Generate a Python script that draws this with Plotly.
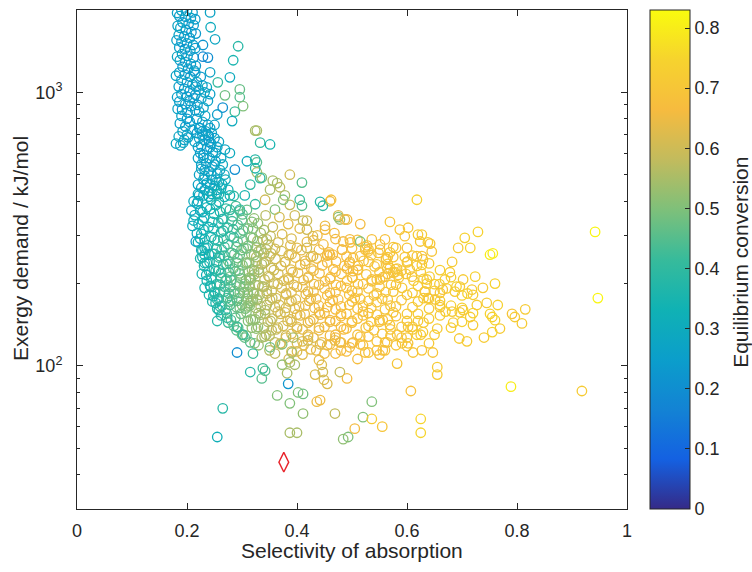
import plotly.graph_objects as go

# ---------------- data ----------------
# vertical streak near selectivity 0.19-0.21
streak_sel = [0.190,0.200,0.210,0.186,0.197,0.207,0.192,0.203,0.212,0.188,0.198,0.208,0.185,0.195,0.205,
              0.190,0.200,0.211,0.186,0.196,0.206,0.191,0.201,0.212,0.187,0.197,0.207,0.192,0.202,0.213,
              0.186,0.196,0.206,0.190,0.200,0.210,0.185,0.195,0.205,0.190,0.200,0.212,0.186,0.197,0.207,
              0.191,0.201,0.190,0.200,0.187,0.197,0.192,0.185,0.195,0.180,0.188,
              0.182,0.215,0.183,0.216,0.181,0.215,0.182,0.216,0.180,0.216,0.182,0.215,0.183,0.205,0.210,
              0.200,0.205]
streak_exe = [1990,1985,1960,1900,1890,1870,1800,1780,1760,1720,1690,1660,1620,1600,1580,
              1530,1510,1490,1460,1440,1420,1380,1360,1340,1310,1290,1270,1240,1220,1200,
              1180,1160,1140,1110,1090,1070,1050,1030,1010,985,965,950,925,905,890,
              865,845,820,800,770,750,720,690,670,650,640,
              1950,1850,1750,1640,1550,1450,1350,1250,1150,1050,960,860,870,780,730,
              700,930]
streak_conv = [0.27,0.28,0.25,0.26,0.24,0.27,0.23,0.26,0.24,0.28,0.25,0.22,0.27,0.24,0.26,
               0.23,0.27,0.25,0.25,0.22,0.26,0.28,0.24,0.23,0.26,0.25,0.27,0.22,0.26,0.24,
               0.27,0.25,0.23,0.24,0.28,0.26,0.26,0.23,0.25,0.27,0.24,0.22,0.25,0.26,0.28,
               0.23,0.25,0.27,0.24,0.26,0.25,0.27,0.28,0.26,0.29,0.27,
               0.26,0.25,0.27,0.24,0.26,0.25,0.28,0.24,0.27,0.25,0.26,0.24,0.27,0.25,0.26,
               0.27,0.25]

# scatter right of the streak (upper part)
upper_sel = [0.242,0.243,0.251,0.293,0.229,0.229,0.238,0.284,0.242,0.278,0.296,0.269,0.296,0.302,0.265,
             0.287,0.282,0.324,0.256,0.236,0.242,
             0.215,0.225,0.218,0.228,0.222,0.232,0.215,0.226,0.238,0.219,0.230,0.222,0.233,0.218,
             0.228,0.238,0.224,0.234,0.228,0.240,0.255,0.250]
upper_exe = [1960,1730,1563,1474,1490,1350,1340,1310,1184,1135,1025,975,960,890,880,
             850,785,725,1088,1043,985,
             1180,1140,1090,1060,1020,1000,980,950,930,900,880,850,820,800,
             780,760,740,720,700,690,830,760]
upper_conv = [0.27,0.30,0.28,0.38,0.22,0.18,0.20,0.35,0.27,0.30,0.47,0.48,0.45,0.50,0.20,
              0.42,0.30,0.55,0.40,0.30,0.26,
              0.26,0.24,0.27,0.25,0.26,0.28,0.25,0.27,0.26,0.24,0.27,0.26,0.28,0.25,
              0.27,0.24,0.26,0.27,0.26,0.25,0.25,0.27]

# neck: streak bending towards the core
neck_sel = [0.193,0.202,0.228,0.238,0.232,0.244,0.226,0.236,0.247,0.230,0.241,0.252,0.235,0.246,0.226,
            0.240,0.255,0.232,0.246,0.258,0.236,0.250,0.226,0.262,0.240,0.254,0.230,0.268,0.244,0.220,0.258,
            0.327,0.333,0.351,0.269,0.278,0.309,0.327,0.327,0.287,0.336,0.315,0.351,0.369,0.342,0.387,
            0.378,0.387,0.360,0.396,0.305,0.324,0.296,0.278,
            0.212,0.208,0.228,0.212,0.210,0.218,0.224,0.216,0.226,0.228,0.232,
            0.222,0.242,0.218,0.245,0.222,0.250,0.214,0.240,0.258,0.220,0.242,0.255,0.224,0.252,
            0.220,0.230,0.262,0.226,0.250,0.265,0.232,0.260,0.222,0.244,0.268,0.230,0.252,0.270,
            0.220,0.242,0.264,0.232,0.254,0.275,0.220,0.245]
neck_exe = [655,685,720,700,670,650,640,620,605,590,575,560,550,535,525,
            515,505,495,480,470,465,455,448,445,435,425,420,415,405,400,398,
            725,655,645,618,600,560,555,510,522,488,460,441,450,405,500,
            420,388,373,355,420,390,373,420,
            400,370,365,340,325,305,292,285,265,250,238,
            740,740,710,710,680,680,660,660,660,630,630,630,600,600,
            575,575,575,545,545,545,520,520,500,500,500,480,480,480,
            460,460,460,440,440,440,425,425]
neck_conv = [0.28,0.27,0.26,0.25,0.27,0.24,0.26,0.27,0.26,0.25,0.28,0.26,0.27,0.25,0.28,
             0.27,0.26,0.29,0.28,0.30,0.27,0.30,0.28,0.32,0.30,0.31,0.29,0.35,0.32,0.30,0.34,
             0.55,0.40,0.35,0.28,0.30,0.30,0.45,0.55,0.20,0.50,0.40,0.55,0.58,0.60,0.60,
             0.55,0.58,0.50,0.60,0.35,0.40,0.38,0.33,
             0.30,0.28,0.30,0.32,0.30,0.30,0.32,0.25,0.30,0.33,0.35,
             0.25,0.26,0.24,0.27,0.26,0.25,0.27,0.24,0.28,0.26,0.25,0.27,0.24,0.26,
             0.27,0.25,0.28,0.26,0.27,0.29,0.25,0.28,0.27,0.26,0.30,0.28,0.27,0.31,
             0.27,0.29,0.31,0.28,0.30,0.33,0.29,0.30]

# dense core and orange band
core_sel = [0.218,0.236,0.253,0.271,0.289,0.309,
            0.214,0.231,0.249,0.266,0.283,0.301,0.322,0.343,0.368,
            0.221,0.239,0.257,0.274,0.292,0.311,0.329,0.356,0.384,0.405,
            0.226,0.244,0.262,0.279,0.297,0.316,0.334,0.352,0.373,0.437,0.468,
            0.220,0.238,0.256,0.274,0.292,0.311,0.328,0.347,0.366,0.388,0.418,0.448,0.497,0.527,
            0.228,0.246,0.263,0.281,0.299,0.317,0.335,0.353,0.372,0.390,0.408,0.458,0.482,0.548,
            0.224,0.241,0.258,0.275,0.292,0.309,0.326,0.343,0.361,0.379,0.397,0.415,0.436,0.471,0.502,0.521,0.562,0.601,
            0.231,0.249,0.266,0.284,0.301,0.318,0.336,0.353,0.371,0.389,0.406,0.426,0.446,0.466,0.486,0.511,0.541,0.579,0.618,
            0.227,0.245,0.262,0.279,0.296,0.313,0.331,0.348,0.366,0.384,0.402,0.421,0.441,0.461,0.481,0.501,0.526,0.556,0.598,0.641,
            0.236,0.254,0.272,0.290,0.307,0.324,0.341,0.358,0.376,0.394,0.412,0.431,0.451,0.471,0.491,0.511,0.536,0.571,0.612,0.659,
            0.232,0.250,0.268,0.286,0.303,0.320,0.337,0.354,0.372,0.390,0.410,0.430,0.450,0.470,0.490,0.510,0.530,0.561,0.591,0.632,0.672,
            0.240,0.258,0.276,0.294,0.311,0.328,0.345,0.362,0.380,0.398,0.416,0.435,0.455,0.475,0.495,0.515,0.540,0.565,0.600,0.640,0.700,
            0.246,0.264,0.282,0.300,0.317,0.334,0.351,0.368,0.386,0.404,0.422,0.440,0.460,0.480,0.500,0.520,0.545,0.580,0.620,0.680,
            0.255,0.272,0.290,0.308,0.325,0.342,0.360,0.378,0.396,0.414,0.432,0.450,0.470,0.490,0.510,0.530,0.560,0.600,0.640,0.720,
            0.262,0.280,0.298,0.316,0.334,0.352,0.370,0.388,0.406,0.424,0.442,0.460,0.480,0.500,0.520,0.550,0.580,0.620,0.660,0.760,
            0.275,0.293,0.311,0.329,0.347,0.365,0.383,0.400,0.420,0.440,0.460,0.480,0.500,0.525,0.550,0.590,0.630,0.680,
            0.290,0.308,0.326,0.344,0.362,0.380,0.400,0.420,0.440,0.460,0.485,0.510,0.540,0.570,0.610,0.650,
            0.305,0.323,0.341,0.360,0.380,0.400,0.420,0.445,0.470,0.500,0.530,0.560,0.600,0.640,
            0.330,0.350,0.370,0.390,0.412,0.435,0.460,0.490,0.520,0.560,0.600,
            0.360,0.385,0.410,0.440,0.470,0.510,0.550,
            0.250,0.268,0.285,0.303,0.260,0.278,0.296,0.313,0.330,0.252,0.270,0.288,0.305,0.322,0.340,
            0.260,0.278,0.296,0.314,0.332,0.270,0.288,0.306,0.324,0.342,0.285,0.300,0.318,0.336,0.354,
            0.232,0.240,0.235,0.243,0.248,0.252,0.258]
core_exe = [392,380,388,376,384,372,
            356,348,360,345,352,358,346,355,350,
            330,322,334,320,328,318,332,322,330,318,
            304,296,308,298,305,295,306,298,303,300,306,
            283,276,287,279,284,275,286,278,283,276,284,278,283,276,
            264,257,266,259,265,256,267,258,263,256,265,260,266,259,
            247,240,249,242,248,239,250,241,246,240,249,242,247,241,248,242,247,241,
            232,226,234,227,233,225,235,228,232,225,234,227,233,226,232,225,231,226,232,
            217,211,219,212,218,210,220,213,217,210,219,212,218,211,217,210,216,211,217,212,
            205,199,207,200,206,198,207,200,205,198,206,199,204,198,205,199,204,198,205,199,
            193,187,195,188,194,186,195,188,193,186,194,187,192,186,193,187,192,186,193,187,192,
            182,176,184,177,183,175,184,177,182,175,183,176,181,175,182,176,181,175,182,176,181,
            172,166,174,167,173,165,174,167,172,165,173,166,171,165,172,166,171,165,172,166,
            162,156,164,157,163,155,164,157,162,155,163,156,161,155,162,156,161,155,162,156,
            153,147,155,148,154,146,155,148,153,146,154,147,152,146,153,147,152,146,153,147,
            144,138,146,139,145,138,146,139,144,138,145,139,144,138,145,139,144,138,
            135,129,137,130,136,129,137,130,135,129,136,130,135,129,136,130,
            127,121,128,122,127,121,128,122,127,121,128,122,127,121,
            119,114,120,113,119,114,120,113,119,114,118,
            111,106,110,105,111,106,110,
            290,272,295,270,252,236,255,238,262,222,205,222,200,216,195,
            186,172,185,170,182,160,150,162,148,160,140,130,138,127,135,
            270,255,215,195,180,170,160]
core_conv = [0.30,0.33,0.36,0.40,0.43,0.47,
             0.31,0.33,0.35,0.38,0.42,0.46,0.52,0.57,0.61,
             0.32,0.34,0.37,0.40,0.44,0.49,0.53,0.59,0.63,0.63,
             0.33,0.35,0.38,0.42,0.45,0.50,0.54,0.58,0.62,0.65,0.66,
             0.34,0.36,0.39,0.43,0.46,0.50,0.55,0.58,0.61,0.63,0.64,0.66,0.68,0.69,
             0.35,0.37,0.40,0.44,0.47,0.52,0.56,0.59,0.61,0.63,0.64,0.66,0.67,0.70,
             0.36,0.35,0.40,0.45,0.48,0.52,0.56,0.58,0.61,0.62,0.64,0.64,0.65,0.67,0.68,0.69,0.70,0.71,
             0.36,0.38,0.42,0.46,0.49,0.53,0.56,0.59,0.61,0.63,0.64,0.65,0.66,0.67,0.67,0.68,0.69,0.70,0.72,
             0.35,0.38,0.42,0.47,0.50,0.53,0.57,0.60,0.61,0.63,0.64,0.65,0.66,0.67,0.67,0.68,0.69,0.70,0.71,0.72,
             0.34,0.39,0.44,0.48,0.51,0.55,0.58,0.60,0.62,0.63,0.64,0.65,0.66,0.67,0.68,0.68,0.69,0.70,0.72,0.73,
             0.35,0.38,0.43,0.47,0.51,0.54,0.57,0.60,0.62,0.63,0.64,0.65,0.66,0.67,0.68,0.68,0.69,0.70,0.71,0.72,0.73,
             0.36,0.40,0.45,0.49,0.52,0.55,0.58,0.61,0.62,0.63,0.64,0.66,0.67,0.67,0.68,0.69,0.69,0.70,0.71,0.72,0.74,
             0.37,0.41,0.46,0.50,0.53,0.56,0.59,0.61,0.62,0.64,0.65,0.66,0.67,0.67,0.68,0.69,0.70,0.70,0.72,0.73,
             0.38,0.42,0.47,0.51,0.54,0.57,0.60,0.62,0.63,0.64,0.65,0.66,0.67,0.68,0.68,0.69,0.70,0.71,0.72,0.74,
             0.39,0.44,0.48,0.52,0.55,0.58,0.61,0.62,0.64,0.65,0.66,0.66,0.67,0.68,0.68,0.69,0.70,0.71,0.72,0.75,
             0.42,0.46,0.50,0.53,0.57,0.60,0.62,0.63,0.64,0.65,0.66,0.67,0.68,0.68,0.69,0.70,0.71,0.73,
             0.45,0.49,0.52,0.56,0.59,0.61,0.63,0.64,0.65,0.66,0.67,0.68,0.69,0.69,0.71,0.72,
             0.47,0.51,0.55,0.58,0.61,0.62,0.64,0.65,0.66,0.67,0.68,0.69,0.70,0.71,
             0.53,0.56,0.60,0.62,0.63,0.64,0.66,0.67,0.68,0.69,0.70,
             0.58,0.61,0.63,0.64,0.66,0.67,0.68,
             0.36,0.44,0.40,0.50,0.42,0.46,0.48,0.52,0.55,0.38,0.44,0.46,0.50,0.54,0.57,
             0.40,0.45,0.48,0.52,0.55,0.43,0.46,0.50,0.53,0.56,0.45,0.48,0.52,0.55,0.58,
             0.32,0.30,0.32,0.34,0.35,0.36,0.36]

# extra points filling the teal/green core
fill_sel = [0.222,0.240,0.258,0.285,
            0.224,0.242,0.260,0.278,0.296,
            0.228,0.246,0.264,0.282,0.300,0.318,
            0.230,0.248,0.266,0.284,0.302,0.320,0.340,
            0.232,0.266,0.302,0.320,0.338,
            0.236,0.254,0.290,0.308,0.326,0.344,
            0.232,0.250,0.268,0.286,0.322,0.340,
            0.236,0.254,0.272,0.290,0.308,0.326,
            0.240,0.258,0.276,0.294,0.312,0.330,
            0.244,0.262,0.280,0.298,0.316,
            0.242,0.260,0.278,0.296,0.314,
            0.250,0.268,0.286,0.304,0.322,
            0.255,0.273,0.291,0.309,0.327,
            0.260,0.278,0.296,0.314]
fill_exe = [420,416,424,418,
            370,374,366,372,368,
            340,336,344,338,342,336,
            315,318,312,316,313,318,314,
            290,292,288,293,289,
            270,268,272,269,271,267,
            255,257,253,256,254,258,
            238,240,236,239,237,241,
            222,224,220,223,221,225,
            208,210,206,209,207,
            196,198,194,197,195,
            185,187,183,186,184,
            175,177,173,176,174,
            165,167,163,166]
fill_conv = [0.30,0.32,0.35,0.40,
             0.31,0.33,0.36,0.40,0.44,
             0.32,0.34,0.38,0.42,0.46,0.50,
             0.33,0.35,0.38,0.42,0.46,0.50,0.55,
             0.34,0.40,0.47,0.50,0.55,
             0.35,0.38,0.45,0.48,0.52,0.56,
             0.34,0.37,0.40,0.45,0.52,0.55,
             0.35,0.38,0.42,0.46,0.50,0.54,
             0.36,0.39,0.43,0.47,0.51,0.55,
             0.37,0.40,0.44,0.48,0.52,
             0.36,0.40,0.44,0.48,0.52,
             0.38,0.42,0.46,0.50,0.54,
             0.38,0.43,0.47,0.51,0.55,
             0.39,0.44,0.48,0.52]

# extra points filling the orange band
orange_sel = [0.345,0.390,0.430,0.470,0.510,
              0.360,0.400,0.440,0.500,0.530,0.580,
              0.350,0.385,0.425,0.455,0.490,0.535,0.575,0.610,
              0.340,0.378,0.415,0.455,0.495,0.530,0.565,0.600,0.640,
              0.322,0.358,0.392,0.430,0.470,0.510,0.550,0.590,0.625,0.660,
              0.315,0.350,0.385,0.420,0.460,0.500,0.545,0.585,0.630,0.680,
              0.330,0.365,0.400,0.440,0.480,0.520,0.550,0.580,0.620,0.650,0.690,
              0.310,0.345,0.380,0.420,0.460,0.500,0.545,0.575,0.610,0.650,0.710,
              0.320,0.355,0.390,0.425,0.465,0.505,0.530,0.555,0.590,0.630,0.660,
              0.310,0.345,0.380,0.415,0.455,0.495,0.535,0.570,0.610,0.660,0.700,
              0.330,0.365,0.400,0.440,0.480,0.520,0.545,0.575,0.620,0.670,
              0.320,0.355,0.390,0.430,0.470,0.510,0.535,0.565,0.600,0.640,0.700,
              0.340,0.375,0.410,0.450,0.490,0.530,0.570,0.610,0.655,
              0.350,0.390,0.430,0.470,0.515,0.555,0.590,0.625,
              0.370,0.410,0.455,0.480,0.515,0.545,0.580,
              0.400,0.425,0.450,0.480,0.530]
orange_exe = [290,292,288,291,289,
              268,270,266,269,267,270,
              252,254,250,253,251,254,250,253,
              238,240,236,239,237,240,236,239,237,
              222,224,220,223,221,224,220,223,221,224,
              209,211,207,210,208,211,207,210,208,211,
              197,199,195,198,196,199,195,198,196,199,195,
              186,188,184,187,185,188,184,187,185,188,184,
              175,177,173,176,174,177,173,176,174,177,173,
              165,167,163,166,164,167,163,166,164,167,163,
              156,158,154,157,155,158,154,157,155,158,
              147,149,145,148,146,149,145,148,146,149,145,
              138,140,136,139,137,140,136,139,137,
              129,131,127,130,128,131,127,130,
              121,123,119,122,120,123,119,
              113,115,111,114,112]
orange_conv = [0.58,0.62,0.64,0.66,0.68,
               0.60,0.63,0.65,0.67,0.69,0.70,
               0.59,0.62,0.64,0.66,0.67,0.69,0.70,0.71,
               0.58,0.62,0.64,0.66,0.68,0.69,0.70,0.71,0.72,
               0.54,0.60,0.63,0.65,0.67,0.68,0.69,0.70,0.72,0.73,
               0.52,0.59,0.62,0.64,0.66,0.68,0.69,0.70,0.72,0.73,
               0.55,0.60,0.63,0.65,0.67,0.68,0.69,0.70,0.72,0.72,0.74,
               0.51,0.58,0.62,0.64,0.66,0.68,0.69,0.70,0.71,0.72,0.74,
               0.53,0.59,0.62,0.64,0.66,0.68,0.69,0.69,0.70,0.72,0.73,
               0.51,0.57,0.61,0.64,0.66,0.68,0.69,0.70,0.71,0.73,0.74,
               0.54,0.60,0.63,0.65,0.67,0.68,0.69,0.70,0.72,0.73,
               0.52,0.59,0.62,0.64,0.66,0.68,0.69,0.70,0.71,0.72,0.74,
               0.56,0.61,0.63,0.65,0.67,0.69,0.70,0.71,0.72,
               0.57,0.62,0.64,0.66,0.68,0.69,0.70,0.72,
               0.60,0.63,0.65,0.67,0.68,0.69,0.70,
               0.62,0.64,0.65,0.67,0.69]

# upper edge of the orange band
band_sel = [0.569,0.587,0.602,0.620,0.624,0.596,0.600,0.575,0.560,0.536,0.551,0.515,0.484,0.496,0.524,
            0.529,0.482,0.455,0.460,0.465,0.565,0.596,0.618,0.629,0.515,0.496,0.429,0.418,0.545,0.569,
            0.578,0.605,0.609,0.636,0.536,0.511,0.491,0.502,0.551,0.564,0.582,0.575,0.584,0.565,0.560,
            0.562,0.569,0.551,0.524,0.515,0.460,0.475,0.478,0.491,0.451,0.418,0.411,0.429,0.442,0.447,
            0.462,0.451,0.475,0.487,0.418,0.409,0.405,0.409,0.375,0.356,0.364,0.333,0.324,0.324]
band_exe = [336,315,320,302,285,298,270,272,290,290,266,285,285,290,272,
            262,266,255,255,255,250,250,252,245,252,240,252,270,235,228,
            220,225,212,207,207,232,227,222,207,227,227,219,215,217,212,
            245,260,278,266,330,400,350,343,343,315,315,340,298,398,385,
            405,325,355,343,340,468,405,385,405,476,466,486,568,528]
band_conv = [0.70,0.70,0.70,0.72,0.70,0.70,0.70,0.70,0.68,0.68,0.68,0.50,0.66,0.66,0.68,
             0.68,0.66,0.66,0.66,0.66,0.70,0.70,0.70,0.70,0.68,0.66,0.62,0.60,0.70,0.70,
             0.70,0.70,0.70,0.72,0.68,0.68,0.66,0.66,0.68,0.70,0.70,0.70,0.70,0.68,0.68,
             0.68,0.70,0.68,0.68,0.66,0.65,0.50,0.55,0.66,0.66,0.60,0.58,0.62,0.38,0.40,
             0.68,0.65,0.62,0.64,0.60,0.45,0.42,0.45,0.50,0.55,0.55,0.40,0.38,0.37]

# sparse points below the cloud
low_sel = [0.255,0.273,0.291,0.302,0.315,0.291,0.320,0.315,0.342,0.336,0.338,0.373,0.396,0.382,0.384,
           0.402,0.411,0.364,0.387,0.411,0.265,0.255,0.387,0.400,0.436,0.442,0.433,0.445,0.447,0.449,
           0.455,0.478,0.491,0.469,0.536,0.520,0.536,0.555,0.505,0.493,0.484,0.607,0.625,0.625,0.582,
           0.655,0.655,0.391,0.387,0.373,0.351,0.393,0.420,0.442,0.469,0.478,0.496,0.502,0.524,0.545,
           0.556,0.627,0.647,0.602,0.611,0.591,0.582,0.569,0.556,0.564,0.629,0.618,0.602]
low_exe = [146,150,139,130,122,112,111,95,96,90,98,101,101,94,86,
           80,79,78,73,67,70,55,57,57,74,75,93,101,95,89,
           86,95,90,67,74,65,64,60,59,55,54,81,64,57,102,
           93,99,112,103,120,117,127,124,120,124,122,117,122,112,114,
           114,114,112,121,112,121,130,141,147,122,133,130,139]
low_conv = [0.38,0.40,0.42,0.42,0.45,0.20,0.42,0.38,0.45,0.45,0.42,0.52,0.55,0.55,0.22,
            0.50,0.48,0.50,0.50,0.52,0.38,0.32,0.55,0.55,0.65,0.65,0.62,0.62,0.60,0.62,
            0.62,0.58,0.66,0.58,0.50,0.50,0.72,0.70,0.66,0.50,0.52,0.68,0.75,0.75,0.70,
            0.72,0.72,0.55,0.55,0.50,0.48,0.55,0.60,0.62,0.64,0.65,0.66,0.66,0.68,0.68,
            0.68,0.70,0.70,0.70,0.70,0.70,0.70,0.70,0.68,0.68,0.72,0.72,0.70]

# sparse points on the right
right_sel = [0.729,0.705,0.693,0.715,0.751,0.756,0.682,0.678,0.702,0.724,0.669,0.638,0.642,0.627,0.645,
             0.627,0.627,0.738,0.760,0.718,0.720,0.696,0.687,0.665,0.660,0.636,0.633,0.745,0.765,0.791,
             0.796,0.815,0.809,0.751,0.755,0.727,0.702,0.696,0.715,0.682,0.660,0.651,0.638,0.684,0.720,
             0.769,0.755,0.740,0.709,0.695,0.618,0.942,0.947,0.918,0.789]
right_exe = [309,294,270,270,255,258,240,220,207,212,207,283,280,302,262,
             252,234,193,200,190,182,195,187,190,185,200,187,170,167,155,
             151,161,143,155,151,167,160,157,151,158,164,175,177,144,141,
             137,133,127,123,126,405,309,177,81,84]
right_conv = [0.74,0.74,0.72,0.74,0.80,0.80,0.72,0.72,0.72,0.74,0.72,0.72,0.70,0.72,0.70,
              0.70,0.72,0.72,0.74,0.72,0.72,0.72,0.72,0.70,0.70,0.72,0.70,0.72,0.74,0.70,
              0.72,0.72,0.72,0.74,0.74,0.72,0.72,0.72,0.72,0.72,0.70,0.70,0.70,0.72,0.72,
              0.72,0.74,0.72,0.72,0.72,0.74,0.82,0.82,0.72,0.80]

# highlighted design (red diamond)
best_sel = [0.376]
best_exe = [44.5]

# axis / colorbar ticks
x_ticks = [0, 0.2, 0.4, 0.6, 0.8, 1]
x_ticktext = ["0", "0.2", "0.4", "0.6", "0.8", "1"]
y_ticks = [100, 1000]
y_ticktext = ["10<sup>2</sup>", "10<sup>3</sup>"]
y_minor = [30, 40, 50, 60, 70, 80, 90, 200, 300, 400, 500, 600, 700, 800, 900, 2000]
cb_ticks = [0, 0.1, 0.2, 0.3, 0.4, 0.5, 0.6, 0.7, 0.8]
conv_range = [0, 0.83]

# MATLAB "parula" colormap
parula = [[0.0, "rgb(53,42,135)"], [0.1, "rgb(20,97,226)"], [0.2, "rgb(19,131,212)"],
          [0.3, "rgb(11,158,203)"], [0.4, "rgb(16,178,180)"], [0.5, "rgb(55,187,155)"],
          [0.6, "rgb(126,192,122)"], [0.7, "rgb(194,187,93)"], [0.8, "rgb(246,187,63)"],
          [0.9, "rgb(246,211,46)"], [1.0, "rgb(249,251,14)"]]

# ---------------- figure ----------------
sel = streak_sel + upper_sel + neck_sel + core_sel + fill_sel + orange_sel + band_sel + low_sel + right_sel
exe = streak_exe + upper_exe + neck_exe + core_exe + fill_exe + orange_exe + band_exe + low_exe + right_exe
conv = streak_conv + upper_conv + neck_conv + core_conv + fill_conv + orange_conv + band_conv + low_conv + right_conv

FONT = "Liberation Sans, Arial, Helvetica, sans-serif"
INK = "#262626"

fig = go.Figure()
fig.add_trace(go.Scatter(
    x=sel, y=exe, mode="markers",
    marker=dict(symbol="circle-open", size=9.5, color=conv, colorscale=parula,
                cmin=conv_range[0], cmax=conv_range[1],
                line=dict(width=1.3),
                colorbar=dict(x=1.0418, xanchor="left", y=0.5, yanchor="middle",
                              len=1.0, lenmode="fraction", thickness=40, thicknessmode="pixels",
                              outlinewidth=1, outlinecolor=INK, xpad=0, ypad=0,
                              tickvals=cb_ticks, ticks="inside", ticklen=5, tickcolor=INK,
                              tickfont=dict(family=FONT, size=18, color=INK))),
    hoverinfo="skip", showlegend=False))

fig.add_trace(go.Scatter(
    x=best_sel, y=best_exe, mode="markers",
    marker=dict(symbol="diamond-tall-open", size=14, color="#e8232a", line=dict(width=1.4)),
    hoverinfo="skip", showlegend=False))

fig.update_layout(
    width=752, height=572,
    margin=dict(l=77, r=125, t=10, b=63),
    plot_bgcolor="white", paper_bgcolor="white",
    font=dict(family=FONT, size=18, color=INK),
    showlegend=False,
    xaxis=dict(range=[0, 1], tickvals=x_ticks, ticktext=x_ticktext,
               ticks="inside", ticklen=6, tickcolor=INK, showline=True, linecolor=INK,
               linewidth=1, mirror="ticks", showgrid=False, zeroline=False,
               tickfont=dict(size=18), ticklabelstandoff=5),
    yaxis=dict(type="log", range=[1.4771, 3.30103], tickvals=y_ticks, ticktext=y_ticktext,
               ticks="inside", ticklen=6, tickcolor=INK, showline=True, linecolor=INK,
               linewidth=1, mirror="ticks", showgrid=False, zeroline=False,
               tickfont=dict(size=18), ticklabelstandoff=10,
               minor=dict(tickvals=y_minor, ticks="inside", ticklen=3, tickcolor=INK, showgrid=False)),
    annotations=[
        dict(text="Selectivity of absorption", xref="paper", yref="paper", x=0.5, y=-0.084,
             xanchor="center", yanchor="middle", showarrow=False, font=dict(size=21)),
        dict(text="Exergy demand / kJ/mol", xref="paper", yref="paper", x=-0.1036, y=0.521,
             xanchor="center", yanchor="middle", textangle=-90, showarrow=False, font=dict(size=21)),
        dict(text="Equilibrium conversion", xref="paper", yref="paper", x=1.207, y=0.495,
             xanchor="center", yanchor="middle", textangle=-90, showarrow=False, font=dict(size=21)),
    ],
)

fig.write_html("out.html", config={"displayModeBar": False},
               post_script="document.body.style.margin='0px';")
